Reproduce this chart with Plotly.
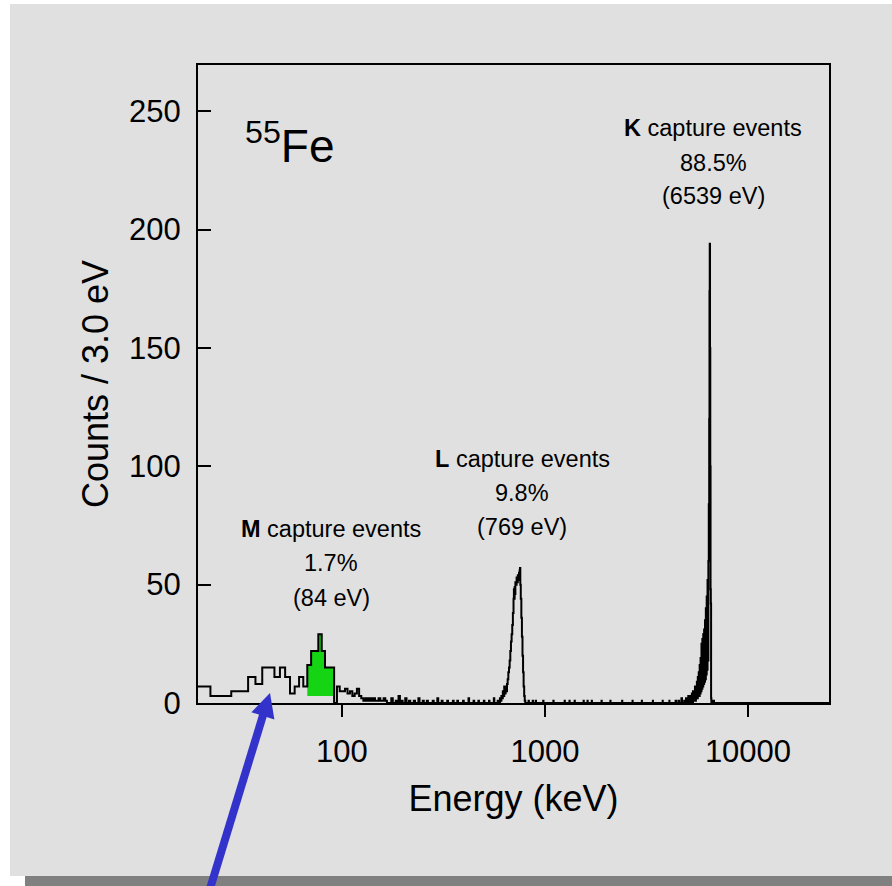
import plotly.graph_objects as go

# 55Fe electron-capture spectrum, counts per 3.0 eV bin.
# each pair is (left bin edge in eV, counts); the line holds the count until the next edge
low_edges = [16.5, 19.5, 22.5, 25.5, 28.5, 31.5, 34.5, 37.5, 40.5, 43.5, 46.5, 49.5,
             52.5, 55.5, 58.5, 61.5, 64.5, 67.5, 70.5, 73.5, 76.5, 79.5, 82.5, 85.5,
             88.5, 91.5, 94.5, 97.5, 100.5, 103.5, 106.5, 109.5, 112.5, 115.5, 118.5,
             121.5, 124.5, 127.5, 130.5, 133.5, 136.5, 139.5, 142.5, 145.5, 148.5,
             151.5, 154.5, 157.5, 160.5, 163.5, 166.5]
low_counts = [7, 7, 3, 3, 5, 5, 11, 8, 15, 15, 11, 15,
              11, 4, 7, 11, 7, 16, 22, 22, 29, 22, 15, 15,
              15, 0, 7, 5, 5, 6, 4, 5, 3, 4, 6,
              3, 2, 1, 2, 1, 2, 1, 2, 1, 1,
              2, 1, 1, 2, 1, 0]

# isolated single-bin blips along the baseline (energy, counts)
blip_energies = [175, 184, 190, 196, 205, 214, 226, 238, 250, 262, 280, 295, 310, 330,
                 352, 370, 395, 420, 445, 470, 500, 530, 560, 585,
                 830, 870, 900, 980, 1100, 1250, 1320, 1400, 1550, 1620, 1700, 1900,
                 2100, 2400, 2700, 3000, 3400, 3800, 4100,
                 6620, 6700, 6800]
blip_counts = [2, 1, 3, 1, 2, 1, 1, 2, 1, 1, 1, 2, 1, 1,
               1, 1, 1, 2, 1, 1, 1, 1, 2, 1,
               1, 1, 1, 1, 1, 1, 1, 1, 1, 1, 1, 1,
               1, 1, 1, 1, 1, 1, 1,
               1, 1, 1]

# L capture line (769 eV)
l_energies = [600, 605, 610, 615, 620, 625, 630, 635, 640, 645, 650, 655, 660, 665, 670,
              675, 680, 685, 690, 695, 700, 703, 706, 709, 712, 715, 720, 725, 730, 735,
              740, 745, 750, 753, 756, 760, 765, 770, 775, 780, 785, 790, 795, 800]
l_counts = [2, 1, 3, 2, 5, 3, 7, 4, 6, 5, 8, 10, 13, 15, 18,
            22, 26, 29, 33, 38, 44, 48, 44, 49, 46, 51, 50, 53, 51, 54,
            52, 55, 56, 57, 50, 44, 36, 28, 20, 13, 7, 3, 1, 0]

# K capture line (6539 eV) with its low-energy tail
k_energies = [4400, 4430, 4550, 4580, 4700, 4730, 4850, 4880, 4950, 4980, 5050, 5080,
              5110, 5150, 5180, 5220, 5250, 5290, 5320, 5360, 5390, 5420, 5450, 5480,
              5510, 5540, 5570, 5600, 5630, 5660, 5690, 5720, 5750, 5780, 5810, 5840,
              5870, 5900, 5930, 5960, 5990, 6020, 6050, 6080, 6110, 6140, 6170, 6200,
              6230, 6260, 6290, 6320, 6350, 6380, 6410, 6440, 6460, 6480, 6500, 6520,
              6540, 6560, 6580, 6600]
k_counts = [1, 0, 1, 0, 2, 0, 1, 0, 2, 0, 1, 3,
            0, 2, 0, 3, 1, 4, 0, 5, 1, 4, 2, 7,
            1, 6, 2, 9, 2, 11, 3, 13, 3, 16, 4, 19,
            5, 25, 6, 27, 7, 29, 8, 31, 9, 35, 10, 40,
            12, 45, 14, 52, 18, 60, 84, 120, 174, 194, 150, 100,
            48, 42, 2, 0]

# green shaded M-line region
m_edges = [67.5, 70.5, 73.5, 76.5, 79.5, 82.5, 85.5, 88.5, 91.5]
m_counts = [16, 22, 22, 29, 22, 15, 15, 15, 15]
m_floor = 3

end_energy = 30000

# assemble one step series in energy order
pts = list(zip(low_edges, low_counts))
for e, c in zip(blip_energies, blip_counts):
    pts += [(e, c), (e + 3, 0)]
pts += list(zip(l_energies, l_counts))
pts += list(zip(k_energies, k_counts))
pts.append((end_energy, 0))
pts.sort(key=lambda p: p[0])
energy = [p[0] for p in pts]
counts = [p[1] for p in pts]

BG = "#e0e0e0"
FONT = "Liberation Sans, Arial, Helvetica, sans-serif"

# plot frame in page pixels, used to place decorations in paper units
L, R, T, B = 198, 829, 65, 703


def px(x):
    return (x - L) / (R - L)


def py(y):
    return (B - y) / (B - T)


fig = go.Figure()
fig.add_trace(go.Scatter(x=m_edges, y=[m_floor] * len(m_edges), mode="lines",
                         line=dict(width=0, shape="hv"), hoverinfo="skip", showlegend=False))
fig.add_trace(go.Scatter(x=m_edges, y=m_counts, mode="lines", fill="tonexty",
                         fillcolor="#14d414", line=dict(width=0, shape="hv"),
                         hoverinfo="skip", showlegend=False))
fig.add_trace(go.Scatter(x=energy, y=counts, mode="lines",
                         line=dict(color="black", width=2, shape="hv"), showlegend=False))

# page background panels
fig.add_shape(type="rect", xref="paper", yref="paper", x0=px(10), x1=px(892), y0=py(876), y1=py(4),
              fillcolor=BG, line_width=0, layer="below")
fig.add_shape(type="rect", xref="paper", yref="paper", x0=px(25), x1=px(892), y0=py(886), y1=py(876),
              fillcolor="#808080", line_width=0, layer="below")

# blue pointer arrow: shaft and head
fig.add_shape(type="line", xref="paper", yref="paper", x0=px(209), y0=py(892), x1=px(264), y1=py(712),
              line=dict(color="#3333cc", width=8), layer="above")
fig.add_shape(type="path", xref="paper", yref="paper",
              path=f"M {px(270)} {py(693)} L {px(251.4)} {py(712.3)} L {px(274.4)} {py(719.5)} Z",
              fillcolor="#3333cc", line_width=0, layer="above")

lab = dict(xref="paper", yref="paper", showarrow=False, xanchor="center", yanchor="middle",
           font=dict(size=23.5, color="black", family=FONT))
fig.add_annotation(x=px(290), y=py(143), text="<sup>55</sup>Fe",
                   **{**lab, "font": dict(size=46, color="black", family=FONT)})
fig.add_annotation(x=px(713), y=py(128), text="<b>K</b> capture events", **lab)
fig.add_annotation(x=px(713), y=py(163), text="88.5%", **lab)
fig.add_annotation(x=px(713), y=py(196), text="(6539 eV)", **lab)
fig.add_annotation(x=px(522), y=py(459), text="<b>L</b> capture events", **lab)
fig.add_annotation(x=px(522), y=py(493), text="9.8%", **lab)
fig.add_annotation(x=px(522), y=py(527), text="(769 eV)", **lab)
fig.add_annotation(x=px(331), y=py(529), text="<b>M</b> capture events", **lab)
fig.add_annotation(x=px(331), y=py(563), text="1.7%", **lab)
fig.add_annotation(x=px(331), y=py(598), text="(84 eV)", **lab)

fig.update_layout(
    width=892, height=886,
    margin=dict(l=L, r=892 - R, t=T, b=886 - B),
    paper_bgcolor="white", plot_bgcolor=BG,
    font=dict(family=FONT, color="black"),
    showlegend=False,
)
fig.update_xaxes(type="log", range=[1.291, 4.399], showgrid=False, zeroline=False,
                 showline=True, linecolor="black", linewidth=2, mirror=True,
                 ticks="outside", ticklen=12, tickwidth=2, tickcolor="black",
                 tickvals=[100, 1000, 10000], ticktext=["100", "1000", "10000"],
                 tickfont=dict(size=31), ticklabelstandoff=8,
                 title=dict(text="Energy (keV)", font=dict(size=36), standoff=18))
fig.update_yaxes(range=[0, 269.5], showgrid=False, zeroline=False,
                 showline=True, linecolor="black", linewidth=2, mirror=True,
                 ticks="inside", ticklen=13, tickwidth=2, tickcolor="black",
                 tickvals=[0, 50, 100, 150, 200, 250], tickfont=dict(size=31),
                 ticklabelstandoff=9,
                 title=dict(text="Counts / 3.0 eV", font=dict(size=36), standoff=9))

# drop the default page margin so the figure sits at the window's top-left corner
fig.write_html("out.html", config={"displayModeBar": False},
               post_script="document.body.style.margin='0';")
